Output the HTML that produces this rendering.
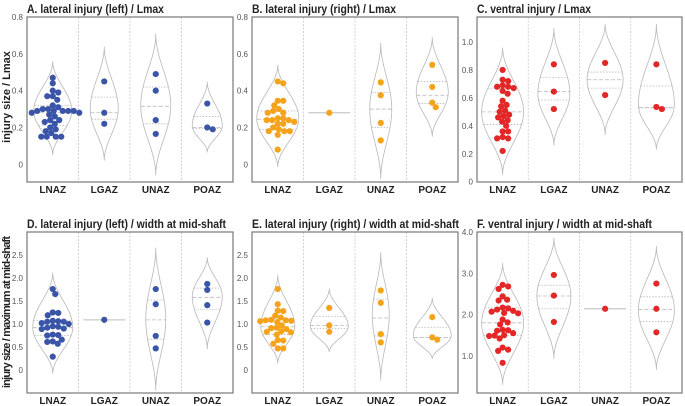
<!DOCTYPE html>
<html><head><meta charset="utf-8">
<style>
html,body{margin:0;padding:0;background:#fff;}
svg{display:block;font-family:"Liberation Sans",Arial,sans-serif;}
</style></head>
<body>
<svg id="chart" width="685" height="406" viewBox="0 0 685 406" xmlns="http://www.w3.org/2000/svg">
<text x="10" y="97" transform="rotate(-90 10 97)" text-anchor="middle" font-size="11" font-weight="bold" fill="#222">injury size / Lmax</text>
<text x="10" y="312" transform="rotate(-90 10 312)" text-anchor="middle" font-size="11" font-weight="bold" fill="#222" textLength="152">injury size / maximum at mid-shaft</text>
</svg>
<script>
const categories = ["LNAZ","LGAZ","UNAZ","POAZ"];
// panel A: lateral left / Lmax
const ptsA = [[0.47,0.44,0.40,0.39,0.37,0.37,0.35,0.32,0.31,0.30,0.30,0.29,0.29,0.29,0.29,0.29,0.28,0.28,0.27,0.26,0.24,0.24,0.23,0.22,0.20,0.19,0.18,0.17,0.15,0.15,0.15,0.15],[0.45,0.28,0.22],[0.49,0.40,0.24,0.165],[0.33,0.20,0.19]];
const violA = [[0.05,0.29,0.56,19],[0.02,0.30,0.64,14],[-0.06,0.32,0.71,15],[0.065,0.21,0.45,15]];
const quartA = [[0.21,0.28,0.32],[0.245,0.28,0.365],[0.22,0.315,0.42],[0.195,0.20,0.26]];
// panel B: lateral right / Lmax
const ptsB = [[0.45,0.44,0.345,0.345,0.32,0.30,0.29,0.28,0.28,0.25,0.25,0.24,0.24,0.24,0.23,0.22,0.22,0.20,0.19,0.18,0.18,0.18,0.16,0.08],[0.28],[0.445,0.375,0.225,0.13],[0.54,0.42,0.335,0.31]];
const violB = [[-0.015,0.25,0.54,21],null,[-0.08,0.30,0.66,11],[0.15,0.39,0.69,16]];
const quartB = [[0.19,0.245,0.29],null,[0.20,0.30,0.39],[0.33,0.375,0.45]];
// panel C: ventral / Lmax
const ptsC = [[0.80,0.73,0.72,0.69,0.68,0.68,0.67,0.65,0.63,0.58,0.55,0.54,0.51,0.50,0.48,0.47,0.46,0.44,0.43,0.40,0.36,0.36,0.32,0.31,0.31,0.22],[0.84,0.645,0.52],[0.85,0.62],[0.84,0.535,0.52]];
const violC = [[0.05,0.50,0.96,21],[0.26,0.63,1.10,16],[0.335,0.73,1.13,18],[0.23,0.55,1.13,18]];
const quartC = [[0.41,0.50,0.665],[0.585,0.645,0.745],[0.67,0.73,0.785],[0.53,0.53,0.685]];
// panel D: lateral left / width
const ptsD = [[1.76,1.65,1.25,1.24,1.19,1.07,1.06,1.05,1.05,1.02,1.0,0.95,0.94,0.92,0.90,0.89,0.77,0.76,0.75,0.66,0.62,0.61,0.57,0.29],[1.09],[1.76,1.43,0.74,0.47],[1.87,1.74,1.41,1.03]];
const violD = [[-0.08,0.93,2.12,20],null,[-0.45,1.10,2.66,10],[0.45,1.60,2.45,15]];
const quartD = [[0.75,0.92,1.07],null,[0.67,1.09,1.52],[1.32,1.58,1.78]];
// panel E: lateral right / width
const ptsE = [[1.76,1.43,1.29,1.28,1.18,1.14,1.09,1.08,1.08,1.07,1.06,1.04,0.97,0.92,0.91,0.89,0.84,0.83,0.82,0.77,0.65,0.64,0.57,0.47,0.47],[1.35,0.97,0.83],[1.73,1.46,0.78,0.60],[1.15,0.71,0.66]];
const violE = [[0.14,0.95,2.07,17],[0.39,0.95,1.77,19],[-0.23,1.20,2.56,8.5],[0.24,0.75,1.57,19]];
const quartE = [[0.77,0.94,1.10],[0.90,0.97,1.16],[0.74,1.13,1.54],[0.71,0.71,0.93]];
// panel F: ventral / width
const ptsF = [[2.72,2.68,2.62,2.44,2.36,2.34,2.17,2.15,2.12,2.09,2.07,2.04,2.03,1.88,1.81,1.76,1.63,1.62,1.61,1.55,1.50,1.49,1.48,1.42,1.20,1.15,1.12,0.83],[2.96,2.46,1.82],[2.14],[2.75,2.14,1.57]];
const violF = [[0.30,1.80,3.25,21],[0.93,2.45,3.86,17],null,[0.66,2.10,3.66,18]];
const quartF = [[1.49,1.80,2.16],[2.14,2.45,2.71],null,[1.83,2.12,2.43]];
const ticksAB = [0,0.2,0.4,0.6,0.8];
const ticksC = [0,0.2,0.4,0.6,0.8,1.0];
const ticksDE = [0,0.5,1.0,1.5,2.0,2.5];
const ticksF = [1.0,2.0,3.0,4.0];

const NS="http://www.w3.org/2000/svg";
const svg=document.getElementById('chart');
function mk(tag,attrs,parent){const e=document.createElementNS(NS,tag);for(const k in attrs)e.setAttribute(k,attrs[k]);(parent||svg).appendChild(e);return e;}

const panels=[
 {id:'a',title:'A. lateral injury (left) / Lmax',tl:137,x0:27,x1:233,y0:17,y1:182,vmin:-0.096,vmax:0.8,pts:ptsA,viol:violA,q:quartA,ticks:ticksAB,dec:1,color:'#3a55a8'},
 {id:'b',title:'B. lateral injury (right) / Lmax',tl:144,x0:252,x1:458,y0:17,y1:182,vmin:-0.096,vmax:0.8,pts:ptsB,viol:violB,q:quartB,ticks:ticksAB,dec:1,color:'#f5a31c'},
 {id:'c',title:'C. ventral injury / Lmax',tl:114,x0:477,x1:682,y0:17,y1:182,vmin:-0.002,vmax:1.179,pts:ptsC,viol:violC,q:quartC,ticks:ticksC,dec:1,color:'#e32727'},
 {id:'d',title:'D. lateral injury (left) / width at mid-shaft',tl:199,x0:27,x1:233,y0:232,y1:393,vmin:-0.5,vmax:3.0,pts:ptsD,viol:violD,q:quartD,ticks:ticksDE,dec:1,color:'#3a55a8'},
 {id:'e',title:'E. lateral injury (right) / width at mid-shaft',tl:207,x0:252,x1:458,y0:232,y1:393,vmin:-0.5,vmax:3.0,pts:ptsE,viol:violE,q:quartE,ticks:ticksDE,dec:1,color:'#f5a31c'},
 {id:'f',title:'F. ventral injury / width at mid-shaft',tl:175,x0:477,x1:682,y0:232,y1:393,vmin:0.1,vmax:4.0,pts:ptsF,viol:violF,q:quartF,ticks:ticksF,dec:1,color:'#e32727'}
];

function halfW(v,vi){const [lo,mode,hi,W]=vi;let u;if(v>=mode)u=(v-mode)/(hi-mode);else u=(mode-v)/(mode-lo);if(u>=1)return 0;return W*(1+Math.cos(Math.PI*u))/2;}

function swarm(vals,yf,r){
 const placed=[];
 const order=vals.map((v,i)=>i).sort((a,b)=>vals[b]-vals[a]);
 const out=new Array(vals.length);
 for(const i of order){
  const y=yf(vals[i]);let best=0;
  const cands=[0];for(let k=1;k<60;k++){cands.push(k*0.5,-k*0.5);}
  for(const c of cands){let ok=true;for(const p of placed){const dx=c-p[0],dy=y-p[1];if(dx*dx+dy*dy<(2*r)*(2*r)-0.01){ok=false;break;}}if(ok){best=c;break;}}
  placed.push([best,y]);out[i]=[best,y];
 }
 return out;
}

panels.forEach(P=>{
 const g=mk('g',{});
 
 
 const yf=v=>P.y1-(v-P.vmin)/(P.vmax-P.vmin)*(P.y1-P.y0);
 const cw=(P.x1-P.x0)/categories.length;
 const xc=i=>P.x0+cw*(i+0.5);
 const t=mk('text',{x:P.x0,y:P.y0-4,'font-size':12,'font-weight':'bold',fill:'#222',textLength:P.tl,lengthAdjust:'spacingAndGlyphs'},g);
 t.textContent=P.title;
 
 
 for(let i=1;i<categories.length;i++){
  const l=mk('line',{x1:P.x0+cw*i,x2:P.x0+cw*i,y1:P.y0,y2:P.y1,stroke:'#c8c8c8','stroke-width':0.8,'stroke-dasharray':'2,1.5'},g);
  
  
 }
 P.ticks.forEach(tv=>{
  const tt=mk('text',{x:P.x0-4,y:yf(tv)+3,'font-size':8,fill:'#555','text-anchor':'end'},g);
  tt.textContent=(tv===0)?'0':tv.toFixed(P.dec);
  
  
 });
 categories.forEach((c,i)=>{
  const cx=xc(i);
  const vi=P.viol[i];
  if(vi){
   const N=60;let right=[],left=[];
   for(let k=0;k<=N;k++){const v=vi[0]+(vi[2]-vi[0])*k/N;const w=halfW(v,vi);right.push((cx+w).toFixed(2)+','+yf(v).toFixed(2));left.push((cx-w).toFixed(2)+','+yf(v).toFixed(2));}
   const pth=mk('polygon',{points:right.concat(left.reverse()).join(' '),fill:'#fff',stroke:'#b8b8b8','stroke-width':0.8},g);
   
   
   P.q[i].forEach((qv,qi)=>{
    const w=halfW(qv,vi);
    const ql=mk('line',{x1:cx-w,x2:cx+w,y1:yf(qv),y2:yf(qv),stroke:'#b8b8b8','stroke-width':0.8,'stroke-dasharray':qi===1?'4,2':'1.5,1.5'},g);
    
    
   });
  } else {
   const v=P.pts[i][0];
   const sl=mk('line',{x1:cx-21,x2:cx+21,y1:yf(v),y2:yf(v),stroke:'#c8c8c8','stroke-width':1.3},g);
   
   
  }
  const pos=swarm(P.pts[i],yf,2.75);
  pos.forEach(p=>{
   const d=mk('circle',{cx:cx+p[0],cy:p[1],r:3.1,fill:P.color},g);
   
   
  });
  const cl=mk('text',{x:cx,y:P.y1+11,'font-size':10,'font-weight':'bold',fill:'#222','text-anchor':'middle'},g);
  cl.textContent=c;
  
  
 });
 const bx=mk('rect',{x:P.x0,y:P.y0,width:P.x1-P.x0,height:P.y1-P.y0,fill:'none',stroke:'#777','stroke-width':1.2},g);
 
 
});
</script>
</body></html>
